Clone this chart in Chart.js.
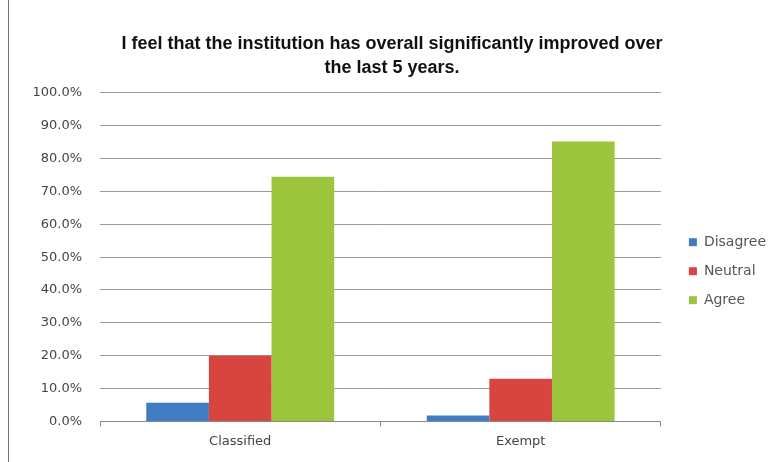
<!DOCTYPE html>
<html>
<head>
<meta charset="utf-8">
<script src="https://cdn.jsdelivr.net/npm/chart.js@4"></script>
<style>
  html, body { margin: 0; padding: 0; background: #fff; }
  #wrap { position: absolute; left: 0; top: 0; width: 784px; height: 462px; }
  #frame { position: absolute; left: 8px; top: 0; width: 1px; height: 462px; background: #777; }
</style>
</head>
<body>
<div id="wrap"><canvas id="surveyChart" width="784" height="462"></canvas></div>
<div id="frame"></div>
<script>
const categories = ['Classified', 'Exempt'];
const disagree = [5.7, 1.8];
const neutral = [20.0, 13.0];
const agree = [74.5, 85.2];
const yTicks = [0, 10, 20, 30, 40, 50, 60, 70, 80, 90, 100];

document.addEventListener('DOMContentLoaded', function () {
    const ctx = document.getElementById('surveyChart').getContext('2d');

    new Chart(ctx, {
        type: 'bar',
        data: {
            labels: categories,
            datasets: [
                { label: 'Disagree', data: disagree, backgroundColor: '#3F7CC2' },
                { label: 'Neutral', data: neutral, backgroundColor: '#D8443F' },
                { label: 'Agree', data: agree, backgroundColor: '#9CC53D' }
            ]
        },
        options: {
            responsive: false,
            animation: false,
            layout: { padding: { left: 8, right: 8, top: 0, bottom: 6 } },
            datasets: {
                bar: { categoryPercentage: 0.67, barPercentage: 1.0 }
            },
            plugins: {
                title: {
                    display: true,
                    text: ['I feel that the institution has overall significantly improved over', 'the last 5 years.'],
                    color: '#111',
                    font: { family: 'Liberation Sans', size: 18, weight: 'bold', lineHeight: 1.33 },
                    padding: { top: 32, bottom: 13 }
                },
                legend: {
                    position: 'right',
                    title: { display: true, text: '', padding: 36 },
                    labels: {
                        boxWidth: 8,
                        boxHeight: 8,
                        padding: 15,
                        color: '#555',
                        font: { family: 'DejaVu Sans', size: 14 }
                    }
                },
                tooltip: { enabled: false }
            },
            scales: {
                x: {
                    grid: { display: true, drawOnChartArea: false, drawTicks: true, tickLength: 5, color: '#888', offset: true },
                    border: { display: true, color: '#888' },
                    ticks: { color: '#444', font: { family: 'DejaVu Sans', size: 13 }, padding: 7 }
                },
                y: {
                    min: 0,
                    max: 100,
                    afterBuildTicks: function (scale) {
                        scale.ticks = yTicks.map(v => ({ value: v }));
                    },
                    afterFit: function (scale) { scale.width = 92; },
                    grid: { color: '#999', drawTicks: false },
                    border: { display: false },
                    ticks: {
                        color: '#444',
                        padding: 18,
                        font: { family: 'DejaVu Sans', size: 13 },
                        callback: v => v.toFixed(1) + '%'
                    }
                },
                gap: {
                    type: 'linear',
                    position: 'right',
                    afterFit: function (scale) { scale.width = 13; },
                    grid: { display: false },
                    border: { display: false },
                    ticks: { display: false }
                }
            }
        }
    });
});
</script>
</body>
</html>
